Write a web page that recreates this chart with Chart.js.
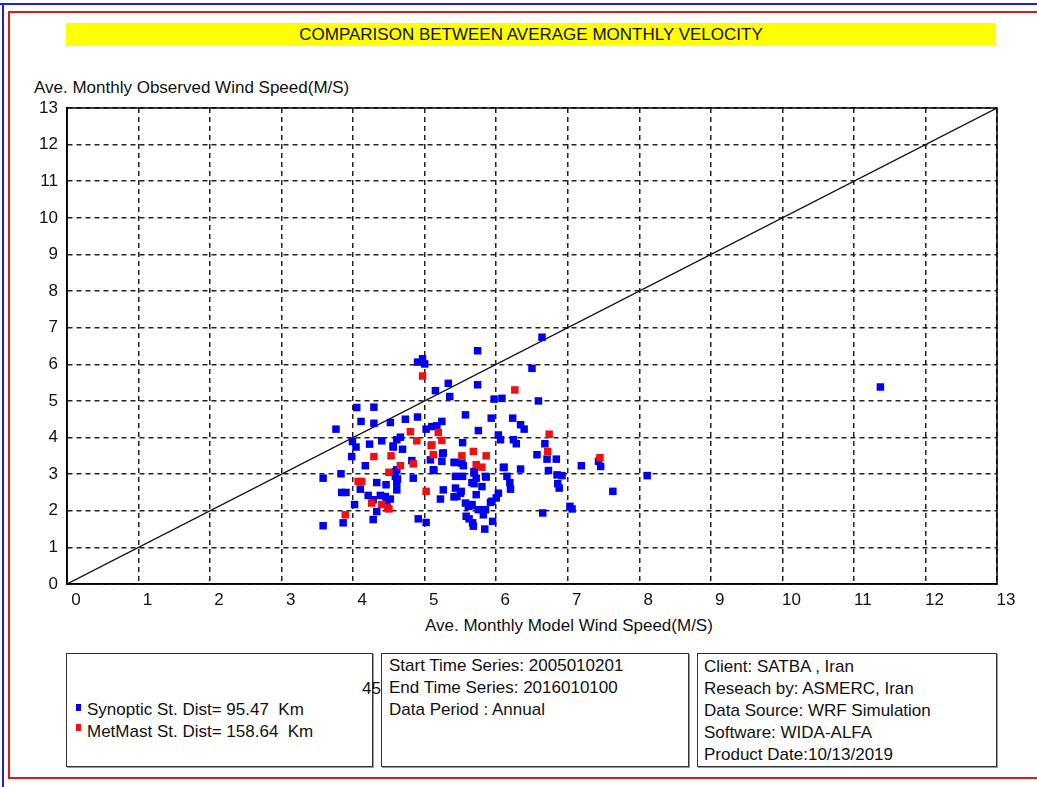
<!DOCTYPE html>
<html>
<head>
<meta charset="utf-8">
<script src="https://cdn.jsdelivr.net/npm/chart.js@4.4.0/dist/chart.umd.min.js"></script>
<style>
  body { margin: 0; background: #fff; font-family: 'Liberation Sans', Arial, sans-serif; }
  #wrap { position: relative; width: 1037px; height: 787px; overflow: hidden; }
  .abs { position: absolute; }
  .txt { position: absolute; font-size: 17px; color: #111; white-space: pre; line-height: 22px; z-index: 1; }
  .box { position: absolute; border: 1.5px solid #333; box-shadow: 1px 1px 0 #999; }
  #chart { position: absolute; left: 0; top: 0; z-index: 2; }
</style>
</head>
<body>
<div id="wrap">
  <!-- outer frames -->
  <div class="abs" style="left:0;top:3px;width:1037px;height:2px;background:#2020d0"></div>
  <div class="abs" style="left:2px;top:3px;width:2px;height:784px;background:#2020d0"></div>
  <div class="abs" style="left:8px;top:11px;width:1029px;height:768px;border-left:2px solid #e01818;border-top:2px solid #e01818;border-bottom:2px solid #e01818;box-sizing:border-box"></div>

  <div class="abs" style="left:66px;top:23px;width:930px;height:23px;background:#ffff00"></div>
  <div class="txt" style="left:66px;top:23px;width:930px;text-align:center;line-height:23px">COMPARISON BETWEEN AVERAGE MONTHLY VELOCITY</div>

  <div class="txt" style="left:34px;top:77px">Ave. Monthly Observed Wind Speed(M/S)</div>
  <div class="txt" style="left:425px;top:615px">Ave. Monthly Model Wind Speed(M/S)</div>

  <div class="box" style="left:66px;top:653px;width:305px;height:112px"></div>
  <div class="box" style="left:381px;top:653px;width:306px;height:112px"></div>
  <div class="box" style="left:697px;top:653px;width:298px;height:112px"></div>
  <div class="txt" style="left:362px;top:678px">45</div>

  <div class="abs" style="left:76px;top:704px;width:5px;height:7px;background:#0000ee"></div>
  <div class="abs" style="left:76px;top:724px;width:5px;height:7px;background:#f01010"></div>
  <div class="txt" style="left:87px;top:699px">Synoptic St. Dist= 95.47  Km
MetMast St. Dist= 158.64  Km</div>

  <div class="txt" style="left:389px;top:655px">Start Time Series: 2005010201
End Time Series: 2016010100
Data Period : Annual</div>

  <div class="txt" style="left:704px;top:656px">Client: SATBA , Iran
Reseach by: ASMERC, Iran
Data Source: WRF Simulation
Software: WIDA-ALFA
Product Date:10/13/2019</div>

  <canvas id="chart" width="1037" height="787"></canvas>
</div>
<script>
// Synoptic station points (model speed, observed speed)
var synopticModel = [4.90,4.97,5.00,5.33,5.15,5.35,5.74,5.74,4.05,4.29,4.11,4.29,4.52,4.73,4.90,3.76,3.99,4.04,3.98,4.23,
  4.40,4.61,4.66,4.56,4.69,5.02,5.10,5.17,5.24,5.57,4.82,5.26,5.08,5.52,5.43,4.17,4.61,4.59,4.61,4.61,
  4.84,5.12,3.58,3.83,4.10,4.33,4.46,3.84,3.90,4.21,4.38,4.45,4.52,4.28,4.33,4.02,3.86,3.58,4.28,4.91,
  5.02,5.26,5.22,5.43,5.50,5.45,5.69,5.72,5.57,5.61,5.58,5.66,5.67,5.75,5.69,5.53,5.43,
  6.64,6.50,5.97,6.08,6.59,5.93,6.23,6.34,6.39,5.75,6.03,6.06,6.24,6.28,6.68,6.57,6.71,6.84,7.43,7.46,
  7.19,6.10,6.34,6.73,6.85,6.92,5.85,6.15,6.19,6.20,6.86,6.88,8.11,7.63,6.03,5.94,6.00,7.03,7.06,6.65,
  5.85,5.82,5.68,5.95,5.84,5.69,5.72,5.80,11.37,
  5.53,5.25,5.24,5.41,5.54,5.13,5.86,6.11,5.66,5.51,5.41,5.92,5.66,5.62,4.56,4.59,4.62,4.47];
var synopticObserved = [6.06,6.15,6.01,5.48,5.28,5.12,6.37,5.44,4.82,4.83,4.44,4.39,4.41,4.50,4.56,4.23,3.89,3.74,3.48,3.82,
  3.91,3.94,4.01,3.74,3.68,4.23,4.30,4.32,4.44,4.62,3.37,3.58,3.39,3.30,3.32,3.23,3.12,2.94,2.76,2.57,
  2.89,3.12,2.89,3.01,2.59,2.77,2.71,2.50,2.50,2.42,2.42,2.39,2.32,2.30,1.98,2.17,1.67,1.59,1.76,1.78,
  1.68,2.57,2.32,2.62,2.48,2.39,2.74,2.44,2.21,2.12,1.85,2.17,1.67,2.03,3.03,2.94,2.94,
  6.74,5.89,5.05,5.07,5.00,4.53,4.53,4.35,4.23,4.19,4.07,3.94,3.94,3.83,3.83,3.53,3.41,3.41,3.35,3.21,
  3.23,3.18,3.14,3.10,2.98,2.96,2.94,2.94,2.77,2.59,2.74,2.62,2.96,2.53,2.48,2.26,2.35,2.12,2.05,1.94,
  2.03,1.89,1.58,1.71,1.50,3.07,2.89,2.66,5.38,
  3.86,3.56,3.35,3.32,3.23,3.10,2.92,3.19,2.77,2.53,2.38,2.23,2.14,1.78,3.77,3.07,2.87,2.26];

// MetMast station points
var metmastModel = [4.97,4.80,4.89,5.19,5.24,5.09,4.29,4.53,4.66,4.84,5.12,5.52,5.68,5.72,4.07,
  4.12,4.26,4.40,4.48,3.89,5.02,6.26,6.74,6.72,7.45,5.86,5.80,4.50,5.10,4.50];
var metmastObserved = [5.68,4.16,3.91,4.14,3.92,3.78,3.48,3.50,3.23,3.28,3.53,3.50,3.62,3.26,2.80,
  2.80,2.21,2.17,2.08,1.89,2.53,5.30,4.09,3.62,3.45,3.50,3.19,3.05,3.80,2.05];

// 1:1 reference line
var refLine = [0, 13];

function toPoints(xs, ys) {
  return xs.map(function(x, i) { return {x: x, y: ys[i]}; });
}

var tickFont = {family: "'Liberation Sans', Arial, sans-serif", size: 17};

var framePlugin = {
  id: 'frame',
  afterDraw: function(chart) {
    var a = chart.chartArea, ctx = chart.ctx;
    ctx.save();
    ctx.strokeStyle = '#000';
    ctx.lineWidth = 1.5;
    ctx.strokeRect(a.left, a.top, a.right - a.left, a.bottom - a.top);
    ctx.restore();
  }
};

new Chart(document.getElementById('chart'), {
  type: 'scatter',
  data: {
    datasets: [
      {
        label: 'MetMast',
        data: toPoints(metmastModel, metmastObserved),
        backgroundColor: '#f01010',
        borderWidth: 0,
        pointStyle: 'rect',
        pointRadius: 5.3,
        order: 1
      },
      {
        label: 'Synoptic',
        data: toPoints(synopticModel, synopticObserved),
        backgroundColor: '#0000ee',
        borderWidth: 0,
        pointStyle: 'rect',
        pointRadius: 5.3,
        order: 2
      },
      {
        type: 'line',
        label: '1:1',
        data: toPoints(refLine, refLine),
        borderColor: '#111',
        borderWidth: 1.3,
        pointRadius: 0,
        order: 3
      }
    ]
  },
  options: {
    responsive: false,
    animation: false,
    layout: {padding: {left: 0, top: 108, right: 40, bottom: 173}},
    plugins: {legend: {display: false}, tooltip: {enabled: false}},
    scales: {
      x: {
        type: 'linear', min: 0, max: 13,
        ticks: {stepSize: 1, labelOffset: 9, padding: 6, color: '#111', font: tickFont},
        grid: {color: '#222', lineWidth: 1.5, drawTicks: false},
        border: {display: true, color: '#000', width: 1.5, dash: [5, 4]},
        afterFit: function(s) { s.height = 30; }
      },
      y: {
        type: 'linear', min: 0, max: 13,
        ticks: {stepSize: 1, padding: 9, color: '#111', font: tickFont},
        grid: {color: '#222', lineWidth: 1.5, drawTicks: false},
        border: {display: true, color: '#000', width: 1.5, dash: [5, 4]},
        afterFit: function(s) { s.width = 67; }
      }
    }
  },
  plugins: [framePlugin]
});
</script>
</body>
</html>
